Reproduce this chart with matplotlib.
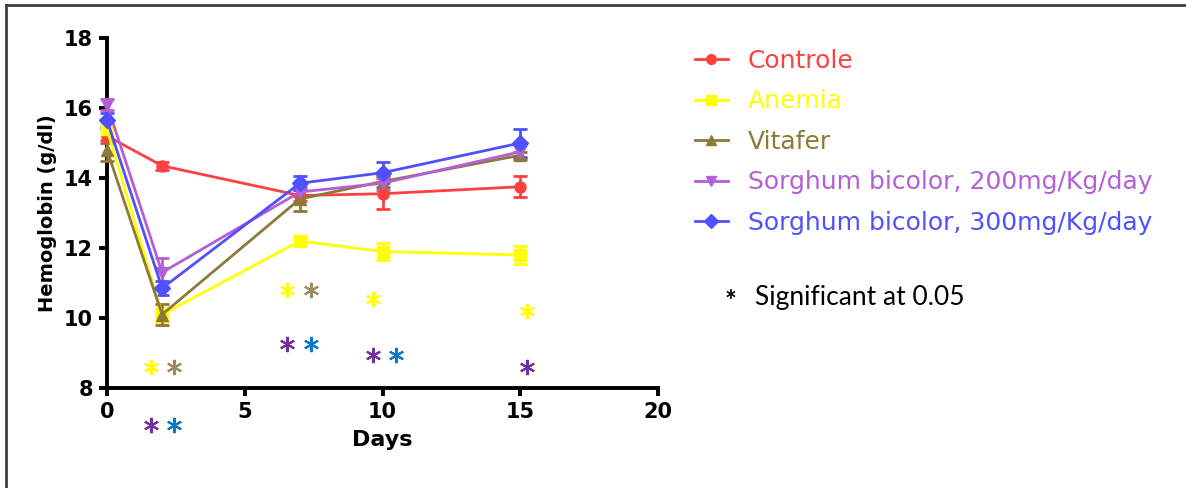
import matplotlib
matplotlib.use("Agg")
import matplotlib.pyplot as plt
from matplotlib.lines import Line2D

days = [0, 2, 7, 10, 15]
series_names = ["Controle", "Anemia", "Vitafer",
                "Sorghum bicolor, 200mg/Kg/day", "Sorghum bicolor, 300mg/Kg/day"]
controle = [15.2, 14.35, 13.5, 13.55, 13.75]
controle_err = [0.2, 0.12, 0.15, 0.45, 0.3]
anemia = [15.4, 10.1, 12.2, 11.9, 11.8]
anemia_err = [0.2, 0.2, 0.12, 0.25, 0.25]
vitafer = [14.8, 10.1, 13.4, 13.9, 14.65]
vitafer_err = [0.3, 0.3, 0.35, 0.15, 0.1]
sorghum200 = [16.1, 11.3, 13.6, 13.85, 14.75]
sorghum200_err = [0.15, 0.4, 0.1, 0.2, 0.2]
sorghum300 = [15.65, 10.85, 13.85, 14.15, 15.0]
sorghum300_err = [0.2, 0.2, 0.2, 0.3, 0.4]

colors = ["#ff4040", "#ffff00", "#8c7a3a", "#b45ed8", "#5050ff"]
markers = ["o", "s", "^", "v", "D"]

# significance asterisks: (day position, value, colour)
star_x = [1.6, 2.45, 1.6, 2.45, 6.55, 7.4, 6.55, 7.4, 9.65, 9.65, 10.5, 15.25, 15.25]
star_y = [8.6, 8.6, 6.95, 6.95, 10.8, 10.8, 9.25, 9.25, 10.55, 8.95, 8.95, 10.2, 8.6]
star_c = ["#ffff00", "#9a8c5c", "#7030a0", "#0a78c8",
          "#ffff00", "#9a8c5c", "#7030a0", "#0a78c8",
          "#ffff00", "#7030a0", "#0a78c8",
          "#ffff00", "#7030a0"]

xticks = [0, 5, 10, 15, 20]
yticks = [8, 10, 12, 14, 16, 18]

fig = plt.figure(figsize=(11.86, 4.88), dpi=100)
ax = fig.add_axes([107/1186, 1-388/488, 551/1186, 350/488])

data = [controle, anemia, vitafer, sorghum200, sorghum300]
errs = [controle_err, anemia_err, vitafer_err, sorghum200_err, sorghum300_err]
for vals, err, c, m in zip(data, errs, colors, markers):
    ax.errorbar(days, vals, yerr=err, color=c, marker=m, markersize=8,
                linewidth=2, elinewidth=2, capsize=5, capthick=2, clip_on=False, zorder=3)

for x, y, c in zip(star_x, star_y, star_c):
    ax.plot([x], [y], marker=(6, 2, 0), markersize=11, markeredgewidth=1.5,
            color=c, linestyle="none", clip_on=False, zorder=4)

ax.set_xlim(0, 20)
ax.set_ylim(8, 18)
ax.set_xticks(xticks)
ax.set_yticks(yticks)
for s in ["top", "right"]:
    ax.spines[s].set_visible(False)
for s in ["left", "bottom"]:
    ax.spines[s].set_linewidth(2.8)
ax.tick_params(direction="out", length=6, width=2.8, labelsize=15, pad=4)
for lab in ax.get_xticklabels() + ax.get_yticklabels():
    lab.set_fontweight("heavy")
ax.set_xlabel("Days", fontsize=16, fontweight="heavy", labelpad=6)
ax.set_ylabel("Hemoglobin (g/dl)", fontsize=14, fontweight="heavy", labelpad=5)

handles = [Line2D([], [], color=c, marker=m, markersize=7, linewidth=2)
           for c, m in zip(colors, markers)]
leg = fig.legend(handles, series_names, loc="upper left",
                 bbox_to_anchor=(685/1186, 1-39/488), frameon=False,
                 fontsize=18, handlelength=1.3, handletextpad=0.8,
                 labelspacing=0.66, borderaxespad=0)
for t, c in zip(leg.get_texts(), colors):
    t.set_color(c)

fig.text(725/1186, 1-302/488, "*", fontsize=20, color="black", va="center",
         family="Lato", fontweight="bold")
fig.text(755/1186, 1-297/488, "Significant at 0.05", fontsize=19, color="black",
         va="center", family="Lato")

# outer frame (top and left)
fig.add_artist(Line2D([6/1186, 6/1186], [0, 1-5/488], color="#404040", linewidth=2))
fig.add_artist(Line2D([6/1186, 1], [1-5/488, 1-5/488], color="#404040", linewidth=2))

fig.savefig("out.png", dpi=100)
